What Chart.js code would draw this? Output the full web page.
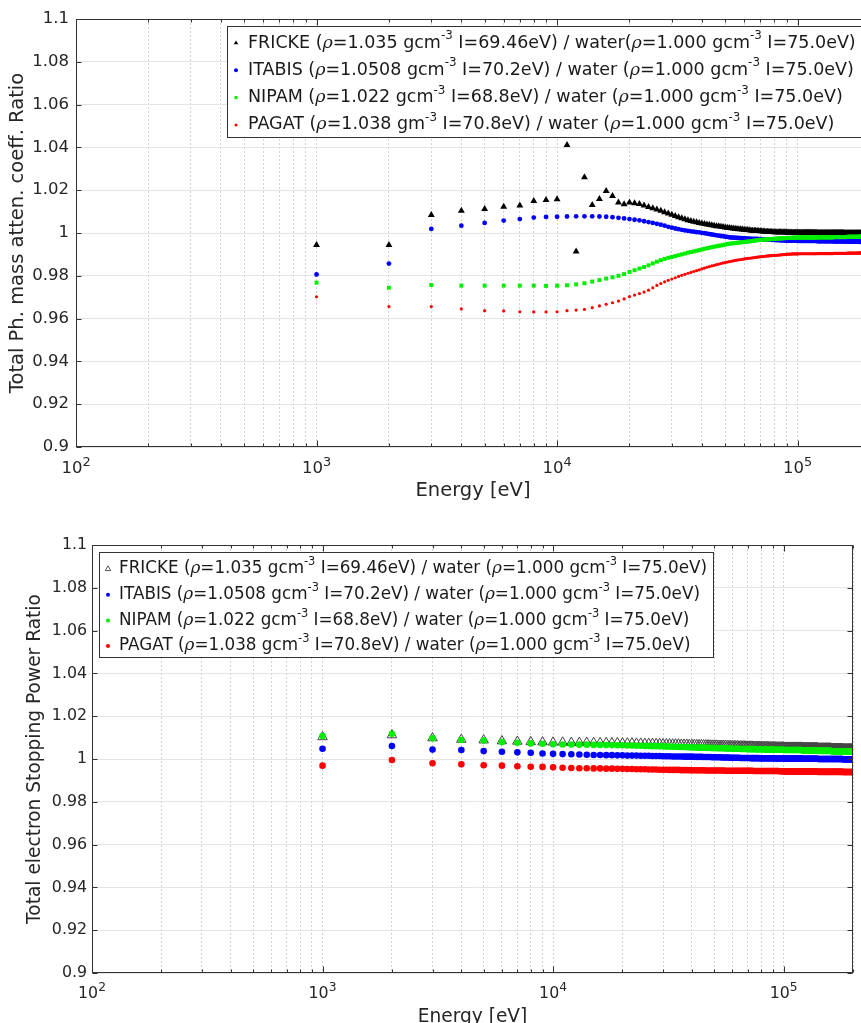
<!DOCTYPE html>
<html>
<head>
<meta charset="utf-8">
<script src="https://cdn.jsdelivr.net/npm/chart.js@4.4.1/dist/chart.umd.min.js"></script>
<style>
  body { margin: 0; width: 861px; height: 1023px; overflow: hidden; background: #fff; position: relative; }
  #phChart { position: absolute; left: 0; top: 0; }
  #spChart { position: absolute; left: 0; top: 505px; }
</style>
</head>
<body>
<canvas id="phChart" width="880" height="505"></canvas>
<canvas id="spChart" width="861" height="530"></canvas>
<script>
// energies (eV), same grid for both plots
const ENERGY_EV = [
  1000, 2000, 3000, 4000, 5000, 6000, 7000, 8000, 9000, 10000,
  11000, 12000, 13000, 14000, 15000, 16000, 17000, 18000, 19000, 20000,
  21000, 22000, 23000, 24000, 25000, 26000, 27000, 28000, 29000, 30000,
  31000, 32000, 33000, 34000, 35000, 36000, 37000, 38000, 39000, 40000,
  41000, 42000, 43000, 44000, 45000, 46000, 47000, 48000, 49000, 50000,
  51000, 52000, 53000, 54000, 55000, 56000, 57000, 58000, 59000, 60000,
  61000, 62000, 63000, 64000, 65000, 66000, 67000, 68000, 69000, 70000,
  71000, 72000, 73000, 74000, 75000, 76000, 77000, 78000, 79000, 80000,
  81000, 82000, 83000, 84000, 85000, 86000, 87000, 88000, 89000, 90000,
  91000, 92000, 93000, 94000, 95000, 96000, 97000, 98000, 99000, 100000,
  101000, 102000, 103000, 104000, 105000, 106000, 107000, 108000, 109000, 110000,
  111000, 112000, 113000, 114000, 115000, 116000, 117000, 118000, 119000, 120000,
  121000, 122000, 123000, 124000, 125000, 126000, 127000, 128000, 129000, 130000,
  131000, 132000, 133000, 134000, 135000, 136000, 137000, 138000, 139000, 140000,
  141000, 142000, 143000, 144000, 145000, 146000, 147000, 148000, 149000, 150000,
  151000, 152000, 153000, 154000, 155000, 156000, 157000, 158000, 159000, 160000,
  161000, 162000, 163000, 164000, 165000, 166000, 167000, 168000, 169000, 170000,
  171000, 172000, 173000, 174000, 175000, 176000, 177000, 178000, 179000, 180000,
  181000, 182000, 183000, 184000, 185000, 186000, 187000, 188000, 189000, 190000,
  191000, 192000, 193000, 194000, 195000, 196000, 197000, 198000, 199000, 200000
];

// --- photon mass attenuation coefficient ratio (top) ---
const PH_FRICKE = [
  0.9944, 0.9944, 1.0084, 1.0104, 1.0112, 1.0123, 1.0128, 1.0150, 1.0154, 1.0158,
  1.0411, 0.9913, 1.0260, 1.0131, 1.0159, 1.0196, 1.0173, 1.0142, 1.0134, 1.0142,
  1.0139, 1.0135, 1.0128, 1.0122, 1.0116, 1.0110, 1.0104, 1.0097, 1.0091, 1.0085,
  1.0079, 1.0074, 1.0069, 1.0064, 1.0060, 1.0056, 1.0053, 1.0050, 1.0047, 1.0044,
  1.0042, 1.0040, 1.0038, 1.0036, 1.0034, 1.0032, 1.0031, 1.0029, 1.0028, 1.0026,
  1.0025, 1.0023, 1.0022, 1.0021, 1.0020, 1.0019, 1.0018, 1.0017, 1.0016, 1.0015,
  1.0014, 1.0014, 1.0013, 1.0012, 1.0011, 1.0011, 1.0010, 1.0009, 1.0009, 1.0008,
  1.0008, 1.0007, 1.0007, 1.0006, 1.0006, 1.0006, 1.0005, 1.0005, 1.0005, 1.0004,
  1.0004, 1.0004, 1.0004, 1.0003, 1.0003, 1.0003, 1.0003, 1.0003, 1.0002, 1.0002,
  1.0002, 1.0002, 1.0002, 1.0002, 1.0001, 1.0001, 1.0001, 1.0001, 1.0001, 1.0001,
  1.0001, 1.0001, 1.0001, 1.0001, 1.0001, 1.0001, 1.0001, 1.0001, 1.0001, 1.0001,
  1.0001, 1.0001, 1.0001, 1.0001, 1.0001, 1.0001, 1.0001, 1.0001, 1.0001, 1.0001,
  1.0000, 1.0000, 1.0000, 1.0000, 1.0000, 1.0000, 1.0000, 1.0000, 1.0000, 1.0000,
  1.0000, 1.0000, 1.0000, 1.0000, 1.0000, 1.0000, 1.0000, 1.0000, 1.0000, 1.0000,
  1.0000, 1.0000, 1.0000, 1.0000, 1.0000, 1.0000, 1.0000, 1.0000, 1.0000, 1.0000,
  1.0000, 1.0000, 1.0000, 1.0000, 1.0000, 0.9999, 0.9999, 0.9999, 0.9999, 0.9999,
  0.9999, 0.9999, 0.9999, 0.9999, 0.9999, 0.9999, 0.9999, 0.9999, 0.9999, 0.9999,
  0.9999, 0.9999, 0.9999, 0.9999, 0.9999, 0.9999, 0.9999, 0.9999, 0.9999, 0.9999,
  0.9999, 0.9999, 0.9999, 0.9999, 0.9999, 0.9999, 0.9999, 0.9999, 0.9999, 0.9999,
  0.9999, 0.9999, 0.9999, 0.9999, 0.9999, 0.9999, 0.9999, 0.9999, 0.9999, 0.9999
];
const PH_ITABIS = [
  0.9806, 0.9857, 1.0019, 1.0034, 1.0047, 1.0058, 1.0065, 1.0072, 1.0075, 1.0076,
  1.0077, 1.0078, 1.0078, 1.0078, 1.0077, 1.0076, 1.0074, 1.0071, 1.0068, 1.0065,
  1.0062, 1.0059, 1.0055, 1.0051, 1.0047, 1.0043, 1.0039, 1.0034, 1.0029, 1.0025,
  1.0021, 1.0018, 1.0015, 1.0012, 1.0010, 1.0008, 1.0006, 1.0004, 1.0003, 1.0001,
  0.9999, 0.9997, 0.9995, 0.9993, 0.9991, 0.9989, 0.9988, 0.9986, 0.9985, 0.9983,
  0.9982, 0.9980, 0.9979, 0.9978, 0.9978, 0.9977, 0.9977, 0.9976, 0.9976, 0.9975,
  0.9975, 0.9974, 0.9974, 0.9973, 0.9973, 0.9973, 0.9972, 0.9972, 0.9971, 0.9971,
  0.9971, 0.9970, 0.9970, 0.9970, 0.9969, 0.9969, 0.9969, 0.9968, 0.9968, 0.9968,
  0.9967, 0.9967, 0.9967, 0.9967, 0.9966, 0.9966, 0.9966, 0.9966, 0.9965, 0.9965,
  0.9965, 0.9965, 0.9965, 0.9964, 0.9964, 0.9964, 0.9964, 0.9964, 0.9964, 0.9964,
  0.9963, 0.9963, 0.9963, 0.9963, 0.9963, 0.9963, 0.9963, 0.9963, 0.9963, 0.9963,
  0.9963, 0.9963, 0.9963, 0.9963, 0.9963, 0.9963, 0.9963, 0.9963, 0.9963, 0.9963,
  0.9962, 0.9962, 0.9962, 0.9962, 0.9962, 0.9962, 0.9962, 0.9962, 0.9962, 0.9962,
  0.9962, 0.9962, 0.9962, 0.9962, 0.9962, 0.9962, 0.9962, 0.9962, 0.9962, 0.9962,
  0.9961, 0.9961, 0.9961, 0.9961, 0.9961, 0.9961, 0.9961, 0.9961, 0.9961, 0.9961,
  0.9961, 0.9961, 0.9961, 0.9961, 0.9961, 0.9961, 0.9961, 0.9961, 0.9961, 0.9961,
  0.9960, 0.9960, 0.9960, 0.9960, 0.9960, 0.9960, 0.9960, 0.9960, 0.9960, 0.9960,
  0.9960, 0.9960, 0.9960, 0.9960, 0.9960, 0.9960, 0.9960, 0.9960, 0.9960, 0.9960,
  0.9959, 0.9959, 0.9959, 0.9959, 0.9959, 0.9959, 0.9959, 0.9959, 0.9959, 0.9959,
  0.9959, 0.9959, 0.9959, 0.9959, 0.9959, 0.9959, 0.9959, 0.9959, 0.9959, 0.9959
];
const PH_NIPAM = [
  0.9768, 0.9744, 0.9757, 0.9754, 0.9754, 0.9754, 0.9754, 0.9754, 0.9753, 0.9754,
  0.9756, 0.9760, 0.9765, 0.9773, 0.9780, 0.9787, 0.9793, 0.9800, 0.9808, 0.9818,
  0.9826, 0.9834, 0.9841, 0.9849, 0.9858, 0.9866, 0.9873, 0.9879, 0.9884, 0.9888,
  0.9892, 0.9896, 0.9900, 0.9904, 0.9908, 0.9911, 0.9914, 0.9917, 0.9920, 0.9923,
  0.9926, 0.9929, 0.9931, 0.9934, 0.9936, 0.9938, 0.9940, 0.9942, 0.9944, 0.9946,
  0.9948, 0.9950, 0.9951, 0.9952, 0.9953, 0.9954, 0.9955, 0.9956, 0.9957, 0.9958,
  0.9959, 0.9960, 0.9961, 0.9962, 0.9963, 0.9964, 0.9965, 0.9966, 0.9967, 0.9968,
  0.9968, 0.9969, 0.9969, 0.9970, 0.9970, 0.9971, 0.9971, 0.9972, 0.9972, 0.9973,
  0.9973, 0.9974, 0.9974, 0.9975, 0.9975, 0.9975, 0.9976, 0.9976, 0.9976, 0.9977,
  0.9977, 0.9977, 0.9977, 0.9978, 0.9978, 0.9978, 0.9978, 0.9978, 0.9978, 0.9978,
  0.9979, 0.9979, 0.9979, 0.9979, 0.9979, 0.9979, 0.9979, 0.9979, 0.9979, 0.9979,
  0.9979, 0.9979, 0.9979, 0.9979, 0.9979, 0.9979, 0.9979, 0.9979, 0.9979, 0.9979,
  0.9980, 0.9980, 0.9980, 0.9980, 0.9980, 0.9980, 0.9980, 0.9980, 0.9980, 0.9980,
  0.9980, 0.9980, 0.9980, 0.9980, 0.9980, 0.9980, 0.9980, 0.9980, 0.9980, 0.9980,
  0.9981, 0.9981, 0.9981, 0.9981, 0.9981, 0.9981, 0.9981, 0.9981, 0.9981, 0.9981,
  0.9981, 0.9981, 0.9981, 0.9981, 0.9981, 0.9981, 0.9981, 0.9981, 0.9981, 0.9981,
  0.9982, 0.9982, 0.9982, 0.9982, 0.9982, 0.9982, 0.9982, 0.9982, 0.9982, 0.9982,
  0.9982, 0.9982, 0.9982, 0.9982, 0.9982, 0.9982, 0.9982, 0.9982, 0.9982, 0.9982,
  0.9983, 0.9983, 0.9983, 0.9983, 0.9983, 0.9983, 0.9983, 0.9983, 0.9983, 0.9983,
  0.9983, 0.9983, 0.9983, 0.9983, 0.9983, 0.9983, 0.9983, 0.9983, 0.9983, 0.9983
];
const PH_PAGAT = [
  0.9702, 0.9656, 0.9656, 0.9645, 0.9637, 0.9636, 0.9632, 0.9631, 0.9631, 0.9632,
  0.9637, 0.9640, 0.9643, 0.9651, 0.9659, 0.9667, 0.9674, 0.9682, 0.9692, 0.9703,
  0.9710, 0.9717, 0.9724, 0.9733, 0.9744, 0.9755, 0.9764, 0.9772, 0.9779, 0.9785,
  0.9791, 0.9797, 0.9802, 0.9807, 0.9812, 0.9816, 0.9820, 0.9824, 0.9828, 0.9832,
  0.9836, 0.9840, 0.9843, 0.9846, 0.9849, 0.9852, 0.9855, 0.9857, 0.9860, 0.9862,
  0.9864, 0.9866, 0.9868, 0.9870, 0.9872, 0.9873, 0.9875, 0.9876, 0.9877, 0.9879,
  0.9880, 0.9881, 0.9882, 0.9883, 0.9884, 0.9885, 0.9886, 0.9887, 0.9888, 0.9889,
  0.9890, 0.9890, 0.9891, 0.9892, 0.9893, 0.9893, 0.9894, 0.9894, 0.9895, 0.9895,
  0.9896, 0.9896, 0.9897, 0.9897, 0.9898, 0.9898, 0.9899, 0.9899, 0.9900, 0.9900,
  0.9901, 0.9901, 0.9901, 0.9901, 0.9902, 0.9902, 0.9902, 0.9902, 0.9902, 0.9902,
  0.9903, 0.9903, 0.9903, 0.9903, 0.9903, 0.9903, 0.9903, 0.9903, 0.9903, 0.9903,
  0.9903, 0.9903, 0.9903, 0.9903, 0.9903, 0.9903, 0.9903, 0.9903, 0.9903, 0.9903,
  0.9904, 0.9904, 0.9904, 0.9904, 0.9904, 0.9904, 0.9904, 0.9904, 0.9904, 0.9904,
  0.9904, 0.9904, 0.9904, 0.9904, 0.9904, 0.9904, 0.9904, 0.9904, 0.9904, 0.9904,
  0.9905, 0.9905, 0.9905, 0.9905, 0.9905, 0.9905, 0.9905, 0.9905, 0.9905, 0.9905,
  0.9905, 0.9905, 0.9905, 0.9905, 0.9905, 0.9905, 0.9905, 0.9905, 0.9905, 0.9905,
  0.9906, 0.9906, 0.9906, 0.9906, 0.9906, 0.9906, 0.9906, 0.9906, 0.9906, 0.9906,
  0.9906, 0.9906, 0.9906, 0.9906, 0.9906, 0.9906, 0.9906, 0.9906, 0.9906, 0.9906,
  0.9907, 0.9907, 0.9907, 0.9907, 0.9907, 0.9907, 0.9907, 0.9907, 0.9907, 0.9907,
  0.9907, 0.9907, 0.9907, 0.9907, 0.9907, 0.9907, 0.9907, 0.9907, 0.9907, 0.9907
];

// --- electron stopping power ratio (bottom) ---
const SP_FRICKE = [
  1.0103, 1.0112, 1.0098, 1.0091, 1.0088, 1.0084, 1.0082, 1.0080, 1.0079, 1.0078,
  1.0078, 1.0077, 1.0077, 1.0077, 1.0076, 1.0076, 1.0076, 1.0075, 1.0075, 1.0074,
  1.0074, 1.0074, 1.0073, 1.0073, 1.0072, 1.0072, 1.0072, 1.0071, 1.0071, 1.0070,
  1.0070, 1.0070, 1.0069, 1.0069, 1.0069, 1.0068, 1.0068, 1.0068, 1.0067, 1.0067,
  1.0067, 1.0066, 1.0066, 1.0066, 1.0065, 1.0065, 1.0065, 1.0064, 1.0064, 1.0064,
  1.0064, 1.0063, 1.0063, 1.0063, 1.0063, 1.0062, 1.0062, 1.0062, 1.0062, 1.0061,
  1.0061, 1.0061, 1.0061, 1.0060, 1.0060, 1.0060, 1.0060, 1.0060, 1.0059, 1.0059,
  1.0059, 1.0059, 1.0059, 1.0058, 1.0058, 1.0058, 1.0058, 1.0058, 1.0058, 1.0057,
  1.0057, 1.0057, 1.0057, 1.0057, 1.0057, 1.0056, 1.0056, 1.0056, 1.0056, 1.0056,
  1.0056, 1.0056, 1.0055, 1.0055, 1.0055, 1.0055, 1.0055, 1.0055, 1.0055, 1.0055,
  1.0054, 1.0054, 1.0054, 1.0054, 1.0054, 1.0054, 1.0054, 1.0054, 1.0054, 1.0054,
  1.0054, 1.0054, 1.0054, 1.0054, 1.0054, 1.0054, 1.0054, 1.0054, 1.0054, 1.0054,
  1.0052, 1.0052, 1.0052, 1.0052, 1.0052, 1.0052, 1.0052, 1.0052, 1.0052, 1.0052,
  1.0052, 1.0052, 1.0052, 1.0052, 1.0052, 1.0052, 1.0052, 1.0052, 1.0052, 1.0052,
  1.0050, 1.0050, 1.0050, 1.0050, 1.0050, 1.0050, 1.0050, 1.0050, 1.0050, 1.0050,
  1.0050, 1.0050, 1.0050, 1.0050, 1.0050, 1.0050, 1.0050, 1.0050, 1.0050, 1.0050,
  1.0048, 1.0048, 1.0048, 1.0048, 1.0048, 1.0048, 1.0048, 1.0048, 1.0048, 1.0048,
  1.0048, 1.0048, 1.0048, 1.0048, 1.0048, 1.0048, 1.0048, 1.0048, 1.0048, 1.0048,
  1.0046, 1.0046, 1.0046, 1.0046, 1.0046, 1.0046, 1.0046, 1.0046, 1.0046, 1.0046,
  1.0046, 1.0046, 1.0046, 1.0046, 1.0046, 1.0046, 1.0046, 1.0046, 1.0046, 1.0046
];
const SP_ITABIS = [
  1.0048, 1.0061, 1.0044, 1.0042, 1.0037, 1.0034, 1.0031, 1.0029, 1.0026, 1.0024,
  1.0023, 1.0022, 1.0021, 1.0020, 1.0019, 1.0019, 1.0018, 1.0018, 1.0017, 1.0017,
  1.0016, 1.0016, 1.0016, 1.0015, 1.0015, 1.0015, 1.0014, 1.0014, 1.0014, 1.0013,
  1.0013, 1.0013, 1.0012, 1.0012, 1.0012, 1.0012, 1.0011, 1.0011, 1.0011, 1.0011,
  1.0010, 1.0010, 1.0010, 1.0010, 1.0009, 1.0009, 1.0009, 1.0009, 1.0008, 1.0008,
  1.0008, 1.0008, 1.0008, 1.0007, 1.0007, 1.0007, 1.0007, 1.0007, 1.0006, 1.0006,
  1.0006, 1.0006, 1.0006, 1.0006, 1.0005, 1.0005, 1.0005, 1.0005, 1.0005, 1.0005,
  1.0005, 1.0004, 1.0004, 1.0004, 1.0004, 1.0004, 1.0004, 1.0004, 1.0003, 1.0003,
  1.0003, 1.0003, 1.0003, 1.0003, 1.0003, 1.0003, 1.0003, 1.0003, 1.0003, 1.0003,
  1.0003, 1.0003, 1.0002, 1.0002, 1.0002, 1.0002, 1.0002, 1.0002, 1.0002, 1.0002,
  1.0002, 1.0002, 1.0002, 1.0002, 1.0002, 1.0002, 1.0002, 1.0002, 1.0002, 1.0002,
  1.0002, 1.0002, 1.0002, 1.0002, 1.0002, 1.0002, 1.0002, 1.0002, 1.0002, 1.0002,
  1.0001, 1.0001, 1.0001, 1.0001, 1.0001, 1.0001, 1.0001, 1.0001, 1.0001, 1.0001,
  1.0001, 1.0001, 1.0001, 1.0001, 1.0001, 1.0001, 1.0001, 1.0001, 1.0001, 1.0001,
  1.0000, 1.0000, 1.0000, 1.0000, 1.0000, 1.0000, 1.0000, 1.0000, 1.0000, 1.0000,
  1.0000, 1.0000, 1.0000, 1.0000, 1.0000, 1.0000, 1.0000, 1.0000, 1.0000, 1.0000,
  1.0000, 1.0000, 1.0000, 1.0000, 1.0000, 1.0000, 1.0000, 1.0000, 1.0000, 1.0000,
  1.0000, 1.0000, 1.0000, 1.0000, 1.0000, 1.0000, 1.0000, 1.0000, 1.0000, 1.0000,
  0.9999, 0.9999, 0.9999, 0.9999, 0.9999, 0.9999, 0.9999, 0.9999, 0.9999, 0.9999,
  0.9999, 0.9999, 0.9999, 0.9999, 0.9999, 0.9999, 0.9999, 0.9999, 0.9999, 0.9999
];
const SP_NIPAM = [
  1.0107, 1.0118, 1.0097, 1.0089, 1.0086, 1.0079, 1.0076, 1.0073, 1.0071, 1.0069,
  1.0068, 1.0068, 1.0067, 1.0067, 1.0066, 1.0066, 1.0065, 1.0065, 1.0064, 1.0064,
  1.0063, 1.0063, 1.0062, 1.0062, 1.0061, 1.0061, 1.0060, 1.0060, 1.0059, 1.0059,
  1.0058, 1.0058, 1.0057, 1.0057, 1.0056, 1.0056, 1.0056, 1.0055, 1.0055, 1.0054,
  1.0054, 1.0054, 1.0053, 1.0053, 1.0053, 1.0052, 1.0052, 1.0052, 1.0051, 1.0051,
  1.0051, 1.0050, 1.0050, 1.0050, 1.0050, 1.0049, 1.0049, 1.0049, 1.0049, 1.0048,
  1.0048, 1.0048, 1.0048, 1.0048, 1.0047, 1.0047, 1.0047, 1.0047, 1.0047, 1.0046,
  1.0046, 1.0046, 1.0046, 1.0046, 1.0046, 1.0045, 1.0045, 1.0045, 1.0045, 1.0045,
  1.0045, 1.0045, 1.0044, 1.0044, 1.0044, 1.0044, 1.0044, 1.0044, 1.0044, 1.0043,
  1.0043, 1.0043, 1.0043, 1.0043, 1.0043, 1.0043, 1.0043, 1.0043, 1.0043, 1.0043,
  1.0042, 1.0042, 1.0042, 1.0042, 1.0042, 1.0042, 1.0042, 1.0042, 1.0042, 1.0042,
  1.0042, 1.0042, 1.0042, 1.0042, 1.0042, 1.0042, 1.0042, 1.0042, 1.0042, 1.0042,
  1.0040, 1.0040, 1.0040, 1.0040, 1.0040, 1.0040, 1.0040, 1.0040, 1.0040, 1.0040,
  1.0040, 1.0040, 1.0040, 1.0040, 1.0040, 1.0040, 1.0040, 1.0040, 1.0040, 1.0040,
  1.0038, 1.0038, 1.0038, 1.0038, 1.0038, 1.0038, 1.0038, 1.0038, 1.0038, 1.0038,
  1.0038, 1.0038, 1.0038, 1.0038, 1.0038, 1.0038, 1.0038, 1.0038, 1.0038, 1.0038,
  1.0036, 1.0036, 1.0036, 1.0036, 1.0036, 1.0036, 1.0036, 1.0036, 1.0036, 1.0036,
  1.0036, 1.0036, 1.0036, 1.0036, 1.0036, 1.0036, 1.0036, 1.0036, 1.0036, 1.0036,
  1.0034, 1.0034, 1.0034, 1.0034, 1.0034, 1.0034, 1.0034, 1.0034, 1.0034, 1.0034,
  1.0034, 1.0034, 1.0034, 1.0034, 1.0034, 1.0034, 1.0034, 1.0034, 1.0034, 1.0034
];
const SP_PAGAT = [
  0.9969, 0.9995, 0.9980, 0.9975, 0.9971, 0.9969, 0.9966, 0.9964, 0.9963, 0.9961,
  0.9959, 0.9958, 0.9957, 0.9957, 0.9956, 0.9956, 0.9955, 0.9955, 0.9954, 0.9954,
  0.9953, 0.9953, 0.9952, 0.9952, 0.9952, 0.9951, 0.9951, 0.9951, 0.9950, 0.9950,
  0.9950, 0.9949, 0.9949, 0.9949, 0.9949, 0.9948, 0.9948, 0.9948, 0.9948, 0.9947,
  0.9947, 0.9947, 0.9947, 0.9947, 0.9947, 0.9946, 0.9946, 0.9946, 0.9946, 0.9946,
  0.9946, 0.9946, 0.9946, 0.9946, 0.9946, 0.9945, 0.9945, 0.9945, 0.9945, 0.9945,
  0.9945, 0.9945, 0.9945, 0.9945, 0.9945, 0.9945, 0.9945, 0.9945, 0.9945, 0.9945,
  0.9945, 0.9945, 0.9945, 0.9944, 0.9944, 0.9944, 0.9944, 0.9944, 0.9944, 0.9944,
  0.9944, 0.9944, 0.9944, 0.9944, 0.9944, 0.9944, 0.9944, 0.9944, 0.9944, 0.9944,
  0.9944, 0.9944, 0.9944, 0.9944, 0.9944, 0.9943, 0.9943, 0.9943, 0.9943, 0.9943,
  0.9942, 0.9942, 0.9942, 0.9942, 0.9942, 0.9942, 0.9942, 0.9942, 0.9942, 0.9942,
  0.9942, 0.9942, 0.9942, 0.9942, 0.9942, 0.9942, 0.9942, 0.9942, 0.9942, 0.9942,
  0.9941, 0.9941, 0.9941, 0.9941, 0.9941, 0.9941, 0.9941, 0.9941, 0.9941, 0.9941,
  0.9941, 0.9941, 0.9941, 0.9941, 0.9941, 0.9941, 0.9941, 0.9941, 0.9941, 0.9941,
  0.9940, 0.9940, 0.9940, 0.9940, 0.9940, 0.9940, 0.9940, 0.9940, 0.9940, 0.9940,
  0.9940, 0.9940, 0.9940, 0.9940, 0.9940, 0.9940, 0.9940, 0.9940, 0.9940, 0.9940,
  0.9940, 0.9940, 0.9940, 0.9940, 0.9940, 0.9940, 0.9940, 0.9940, 0.9940, 0.9940,
  0.9940, 0.9940, 0.9940, 0.9940, 0.9940, 0.9940, 0.9940, 0.9940, 0.9940, 0.9940,
  0.9939, 0.9939, 0.9939, 0.9939, 0.9939, 0.9939, 0.9939, 0.9939, 0.9939, 0.9939,
  0.9939, 0.9939, 0.9939, 0.9939, 0.9939, 0.9939, 0.9939, 0.9939, 0.9939, 0.9939
];

// axes
const X_TICKS = [
  100, 200, 300, 400, 500, 600, 700, 800, 900,
  1000, 2000, 3000, 4000, 5000, 6000, 7000, 8000, 9000,
  10000, 20000, 30000, 40000, 50000, 60000, 70000, 80000, 90000,
  100000, 200000
];
const X_MAJOR = [100, 1000, 10000, 100000];
const X_MAJOR_LABELS = ['10^2^', '10^3^', '10^4^', '10^5^'];
const Y_TICKS = [0.9, 0.92, 0.94, 0.96, 0.98, 1, 1.02, 1.04, 1.06, 1.08, 1.1];
const Y_TICK_LABELS = ['0.9', '0.92', '0.94', '0.96', '0.98', '1', '1.02', '1.04', '1.06', '1.08', '1.1'];

// legend text: _x_ italic, ^x^ superscript
const PH_LEGEND = [
  'FRICKE (_ρ_=1.035 gcm^-3^ I=69.46eV) / water(_ρ_=1.000 gcm^-3^ I=75.0eV)',
  'ITABIS (_ρ_=1.0508 gcm^-3^ I=70.2eV) / water (_ρ_=1.000 gcm^-3^ I=75.0eV)',
  'NIPAM (_ρ_=1.022 gcm^-3^ I=68.8eV) / water (_ρ_=1.000 gcm^-3^ I=75.0eV)',
  'PAGAT (_ρ_=1.038 gm^-3^ I=70.8eV) / water (_ρ_=1.000 gcm^-3^ I=75.0eV)'
];
const SP_LEGEND = [
  'FRICKE (_ρ_=1.035 gcm^-3^ I=69.46eV) / water (_ρ_=1.000 gcm^-3^ I=75.0eV)',
  'ITABIS (_ρ_=1.0508 gcm^-3^ I=70.2eV) / water (_ρ_=1.000 gcm^-3^ I=75.0eV)',
  'NIPAM (_ρ_=1.022 gcm^-3^ I=68.8eV) / water (_ρ_=1.000 gcm^-3^ I=75.0eV)',
  'PAGAT (_ρ_=1.038 gcm^-3^ I=70.8eV) / water (_ρ_=1.000 gcm^-3^ I=75.0eV)'
];

Chart.defaults.font.family = '"DejaVu Sans", sans-serif';
Chart.defaults.color = '#262626';

function richText(ctx, str, x, y, size, draw, supScale) {
  const parts = str.split(/(\^[^^]*\^|_[^_]*_)/);
  const sc = supScale || 0.68;
  let cx = x;
  for (const p of parts) {
    if (!p) continue;
    let txt = p, font = size + 'px "DejaVu Sans"', dy = 0;
    if (p[0] === '^') {
      txt = p.slice(1, -1);
      font = (size * sc).toFixed(1) + 'px "DejaVu Sans"';
      dy = -size * 0.4;
    } else if (p[0] === '_') {
      txt = p.slice(1, -1);
      font = 'italic ' + size + 'px "DejaVu Serif"';
    }
    ctx.font = font;
    if (draw) ctx.fillText(txt, cx, y + dy);
    cx += ctx.measureText(txt).width;
  }
  return cx - x;
}

// box, inward ticks, power-of-ten labels and legend, matlab style
function makeFrame(leg, cfg) {
  return {
    id: 'frame',
    afterDraw(chart) {
      const { ctx, chartArea: a, scales: { x, y } } = chart;
      ctx.save();
      ctx.strokeStyle = '#333';
      ctx.lineWidth = 1;
      const L = Math.round(a.left) + 0.5, R = Math.round(a.right) - 0.5;
      const T = Math.round(a.top) + 0.5, B = Math.round(a.bottom) - 0.5;
      ctx.strokeRect(L, T, R - L, B - T);
      ctx.beginPath();
      x.ticks.forEach(t => {
        const px = Math.round(x.getPixelForValue(t.value)) + 0.5;
        const len = X_MAJOR.includes(t.value) ? 6 : 3;
        ctx.moveTo(px, B); ctx.lineTo(px, B - len);
        ctx.moveTo(px, T); ctx.lineTo(px, T + len);
      });
      y.ticks.forEach(t => {
        const py = Math.round(y.getPixelForValue(t.value)) + 0.5;
        ctx.moveTo(L, py); ctx.lineTo(L + 5, py);
        ctx.moveTo(R, py); ctx.lineTo(R - 5, py);
      });
      ctx.stroke();

      // x tick labels 10^n
      ctx.textBaseline = 'middle';
      ctx.fillStyle = '#262626';
      X_MAJOR.forEach((v, k) => {
        const px = x.getPixelForValue(v);
        const w = richText(ctx, X_MAJOR_LABELS[k], 0, 0, cfg.tickSize, false, 0.78);
        richText(ctx, X_MAJOR_LABELS[k], px - w / 2, a.bottom + cfg.xLabelDy, cfg.tickSize, true, 0.78);
      });

      // legend
      const lx = Math.round(a.left + leg.dx), ly = Math.round(a.top + leg.dy);
      let w = 0;
      leg.lines.forEach(s => { w = Math.max(w, richText(ctx, s, 0, 0, leg.size, false)); });
      const bw = Math.round(leg.textDx + w + leg.padR);
      ctx.fillStyle = '#fff';
      ctx.fillRect(lx, ly, bw, leg.h);
      ctx.strokeStyle = '#333';
      ctx.strokeRect(lx + 0.5, ly + 0.5, bw, leg.h);
      leg.lines.forEach((s, i) => {
        const cy = a.top + leg.row0 + i * leg.rowStep;
        const m = leg.marks[i];
        ctx.fillStyle = m.fill;
        ctx.strokeStyle = m.stroke || m.fill;
        ctx.lineWidth = m.bw || 0;
        Chart.helpers.drawPoint(ctx, { pointStyle: m.style, radius: m.r, borderWidth: m.bw || 0, rotation: 0 }, lx + leg.markDx, cy);
        ctx.fillStyle = '#1a1a1a';
        richText(ctx, s, lx + leg.textDx, cy, leg.size, true);
      });
      ctx.restore();
    }
  };
}

function makeChart(id, sets, cfg, leg) {
  const datasets = sets.map((s, i) => ({
    label: s.name,
    data: ENERGY_EV.map((e, k) => ({ x: e, y: s.values[k] })),
    pointStyle: s.style,
    pointRadius: s.r,
    backgroundColor: s.fill,
    borderColor: s.stroke || s.fill,
    pointBorderWidth: s.bw || 0,
    order: sets.length - i
  }));
  return new Chart(document.getElementById(id), {
    type: 'scatter',
    data: { datasets },
    options: {
      responsive: false,
      animation: false,
      events: [],
      layout: { padding: { top: cfg.top, right: cfg.right, left: 0, bottom: 0 } },
      plugins: { legend: { display: false }, tooltip: { enabled: false } },
      scales: {
        x: {
          type: 'logarithmic',
          min: 100,
          max: 200000,
          afterBuildTicks: sc => { sc.ticks = X_TICKS.map(v => ({ value: v })); },
          afterFit: sc => { sc.height = cfg.xHeight; },
          ticks: { display: false, autoSkip: false, maxRotation: 0 },
          grid: { color: '#d2d2d2', drawTicks: false },
          border: { display: false, dash: [2, 2] },
          title: { display: true, text: 'Energy [eV]', font: { size: cfg.titleSize }, padding: { top: 0, bottom: cfg.xTitlePad } }
        },
        y: {
          min: 0.9,
          max: 1.1,
          afterBuildTicks: sc => { sc.ticks = Y_TICKS.map(v => ({ value: v })); },
          afterFit: sc => { sc.width = cfg.yWidth; },
          ticks: { padding: cfg.yPad, font: { size: cfg.tickSize }, callback: (v, i) => Y_TICK_LABELS[i] },
          grid: { color: '#e4e4e4', drawTicks: false },
          border: { display: false },
          title: { display: true, text: cfg.yTitle, font: { size: cfg.titleSize }, padding: { top: cfg.yTitlePad, bottom: 0 } }
        }
      }
    },
    plugins: [makeFrame(leg, cfg)]
  });
}

makeChart('phChart', [
  { name: 'FRICKE', values: PH_FRICKE, style: 'triangle', r: 4, fill: '#000000' },
  { name: 'ITABIS', values: PH_ITABIS, style: 'circle', r: 2.4, fill: '#0000ff' },
  { name: 'NIPAM', values: PH_NIPAM, style: 'rect', r: 2.8, fill: '#00ee00' },
  { name: 'PAGAT', values: PH_PAGAT, style: 'circle', r: 1.6, fill: '#ff0000' }
], {
  top: 19, right: 10, xHeight: 58, yWidth: 76, xLabelDy: 22, yPad: 7, xTitlePad: 2.3, yTitlePad: 6.3,
  tickSize: 16.5, titleSize: 19.5, yTitle: 'Total Ph. mass atten. coeff. Ratio'
}, {
  lines: PH_LEGEND, size: 17.5, dx: 151, dy: 7, h: 111, markDx: 9, textDx: 21, padR: 6, row0: 24, rowStep: 27.3,
  marks: [
    { style: 'triangle', r: 2.6, fill: '#000000' },
    { style: 'circle', r: 2, fill: '#0000ff' },
    { style: 'rect', r: 2.2, fill: '#00ee00' },
    { style: 'circle', r: 1.5, fill: '#ff0000' }
  ]
});

makeChart('spChart', [
  { name: 'FRICKE', values: SP_FRICKE, style: 'triangle', r: 5.5, fill: 'rgba(0,0,0,0)', stroke: '#444', bw: 1 },
  { name: 'ITABIS', values: SP_ITABIS, style: 'circle', r: 3.3, fill: '#0000ff' },
  { name: 'NIPAM', values: SP_NIPAM, style: 'circle', r: 3.3, fill: '#00ee00' },
  { name: 'PAGAT', values: SP_PAGAT, style: 'circle', r: 3.3, fill: '#ff0000' }
], {
  top: 40, right: 8, xHeight: 62, yWidth: 92, xLabelDy: 21, yPad: 5, xTitlePad: 7.1, yTitlePad: 24.5,
  tickSize: 15.8, titleSize: 18.6, yTitle: 'Total electron Stopping Power Ratio'
}, {
  lines: SP_LEGEND, size: 16.8, dx: 7, dy: 7, h: 105, markDx: 9, textDx: 20, padR: 6, row0: 24, rowStep: 25.7,
  marks: [
    { style: 'triangle', r: 3.2, fill: 'rgba(0,0,0,0)', stroke: '#555', bw: 1 },
    { style: 'circle', r: 2, fill: '#0000ff' },
    { style: 'circle', r: 2, fill: '#00ee00' },
    { style: 'circle', r: 2, fill: '#ff0000' }
  ]
});
</script>
</body>
</html>
